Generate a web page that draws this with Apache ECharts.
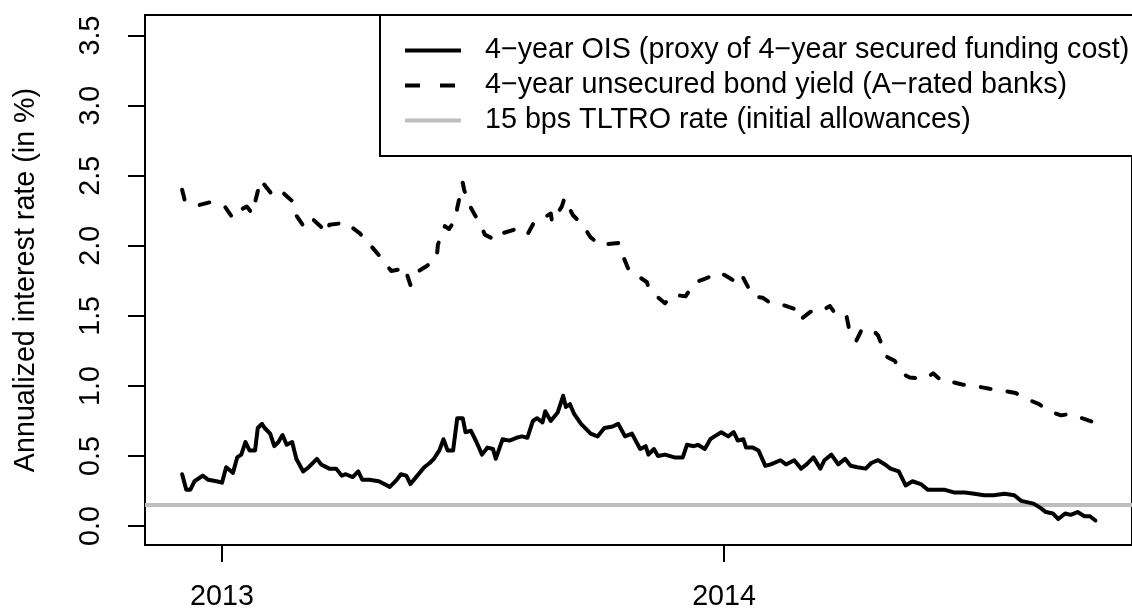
<!DOCTYPE html>
<html>
<head>
<meta charset="utf-8">
<script src="https://cdn.jsdelivr.net/npm/echarts@6/dist/echarts.min.js"></script>
<style>
html,body{margin:0;padding:0;background:#fff;}
#chart{width:1132px;height:612px;}
</style>
</head>
<body>
<div id="chart"></div>
<script>
// ---- data ----
const seriesNames = [
  '4\u2212year OIS (proxy of 4\u2212year secured funding cost)',
  '4\u2212year unsecured bond yield (A\u2212rated banks)',
  '15 bps TLTRO rate (initial allowances)'
];
const xTickDates = ['2013-01-01', '2014-01-01'];
const yTickValues = [0, 0.5, 1.0, 1.5, 2.0, 2.5, 3.0, 3.5];
const xRange = ['2012-11-06', '2014-10-24 14:00:00'];
const yRange = [-0.135, 3.647];
const tltroRate = 0.15;

const oisDates = ['2012-12-03','2012-12-06','2012-12-09','2012-12-12','2012-12-18','2012-12-22','2012-12-28','2013-01-01','2013-01-04','2013-01-09','2013-01-12','2013-01-15','2013-01-18','2013-01-21','2013-01-25','2013-01-27','2013-01-30','2013-02-01','2013-02-05','2013-02-08','2013-02-11','2013-02-14','2013-02-17','2013-02-21','2013-02-24','2013-03-01','2013-03-05','2013-03-11','2013-03-14','2013-03-20','2013-03-25','2013-03-29','2013-04-01','2013-04-06','2013-04-10','2013-04-13','2013-04-18','2013-04-25','2013-05-03','2013-05-08','2013-05-11','2013-05-15','2013-05-18','2013-05-23','2013-05-28','2013-06-01','2013-06-04','2013-06-08','2013-06-11','2013-06-14','2013-06-18','2013-06-21','2013-06-25','2013-06-27','2013-07-01','2013-07-05','2013-07-09','2013-07-13','2013-07-17','2013-07-19','2013-07-24','2013-07-29','2013-08-03','2013-08-07','2013-08-11','2013-08-15','2013-08-18','2013-08-22','2013-08-24','2013-08-28','2013-09-02','2013-09-06','2013-09-08','2013-09-11','2013-09-14','2013-09-19','2013-09-23','2013-09-26','2013-10-01','2013-10-06','2013-10-12','2013-10-16','2013-10-21','2013-10-26','2013-11-01','2013-11-05','2013-11-07','2013-11-11','2013-11-14','2013-11-19','2013-11-26','2013-12-02','2013-12-05','2013-12-10','2013-12-13','2013-12-18','2013-12-22','2013-12-25','2013-12-30','2014-01-04','2014-01-08','2014-01-11','2014-01-15','2014-01-17','2014-01-22','2014-01-26','2014-01-31','2014-02-04','2014-02-11','2014-02-15','2014-02-21','2014-02-26','2014-03-02','2014-03-07','2014-03-12','2014-03-15','2014-03-20','2014-03-25','2014-03-30','2014-04-03','2014-04-08','2014-04-14','2014-04-18','2014-04-23','2014-04-28','2014-05-02','2014-05-08','2014-05-13','2014-05-18','2014-05-24','2014-05-29','2014-06-03','2014-06-10','2014-06-17','2014-06-25','2014-07-02','2014-07-09','2014-07-16','2014-07-24','2014-07-31','2014-08-05','2014-08-14','2014-08-19','2014-08-23','2014-08-28','2014-09-01','2014-09-06','2014-09-10','2014-09-15','2014-09-20','2014-09-24','2014-09-28'];
const oisValues = [0.37,0.26,0.26,0.32,0.36,0.33,0.32,0.31,0.42,0.38,0.49,0.51,0.60,0.54,0.54,0.70,0.73,0.70,0.66,0.57,0.60,0.65,0.58,0.60,0.48,0.39,0.42,0.48,0.44,0.41,0.41,0.36,0.37,0.35,0.39,0.33,0.33,0.32,0.28,0.33,0.37,0.36,0.30,0.36,0.42,0.45,0.48,0.54,0.62,0.54,0.54,0.77,0.77,0.67,0.68,0.60,0.51,0.56,0.55,0.48,0.62,0.61,0.63,0.64,0.63,0.75,0.77,0.74,0.82,0.75,0.81,0.93,0.85,0.87,0.80,0.73,0.69,0.66,0.64,0.70,0.71,0.73,0.64,0.66,0.55,0.57,0.51,0.55,0.50,0.51,0.49,0.49,0.58,0.57,0.58,0.55,0.62,0.64,0.67,0.64,0.67,0.61,0.62,0.56,0.56,0.54,0.43,0.44,0.47,0.44,0.47,0.41,0.44,0.49,0.41,0.47,0.51,0.44,0.48,0.43,0.42,0.41,0.45,0.47,0.44,0.41,0.39,0.29,0.32,0.30,0.26,0.26,0.26,0.24,0.24,0.23,0.22,0.22,0.23,0.22,0.18,0.16,0.13,0.10,0.09,0.05,0.09,0.08,0.10,0.07,0.07,0.04];

const bondDates = ['2012-12-03','2012-12-05','2012-12-15','2012-12-23','2013-01-03','2013-01-08','2013-01-12','2013-01-15','2013-01-19','2013-01-23','2013-01-25','2013-01-29','2013-02-02','2013-02-07','2013-02-13','2013-02-21','2013-02-23','2013-03-02','2013-03-08','2013-03-19','2013-03-20','2013-03-28','2013-03-31','2013-04-03','2013-04-11','2013-04-21','2013-04-27','2013-05-04','2013-05-09','2013-05-10','2013-05-15','2013-05-18','2013-05-24','2013-05-29','2013-06-06','2013-06-07','2013-06-12','2013-06-15','2013-06-20','2013-06-21','2013-06-25','2013-06-26','2013-07-01','2013-07-05','2013-07-09','2013-07-11','2013-07-19','2013-07-24','2013-08-03','2013-08-11','2013-08-16','2013-08-21','2013-08-28','2013-08-29','2013-09-05','2013-09-07','2013-09-13','2013-09-20','2013-09-26','2013-10-04','2013-10-07','2013-10-16','2013-10-19','2013-10-24','2013-10-31','2013-11-06','2013-11-07','2013-11-13','2013-11-19','2013-11-25','2013-12-04','2013-12-11','2013-12-17','2013-12-29','2014-01-05','2014-01-13','2014-01-15','2014-01-22','2014-01-29','2014-02-04','2014-02-12','2014-02-21','2014-02-25','2014-03-05','2014-03-10','2014-03-19','2014-03-24','2014-03-31','2014-04-02','2014-04-07','2014-04-11','2014-04-19','2014-04-23','2014-04-29','2014-05-05','2014-05-12','2014-05-16','2014-05-27','2014-06-02','2014-06-09','2014-06-15','2014-06-23','2014-07-02','2014-07-13','2014-07-21','2014-08-01','2014-08-06','2014-08-18','2014-08-25','2014-09-03','2014-09-09','2014-09-18','2014-09-24','2014-09-28'];
const bondValues = [2.40,2.32,2.29,2.31,2.28,2.21,2.27,2.26,2.28,2.23,2.31,2.47,2.42,2.36,2.39,2.32,2.23,2.13,2.19,2.09,2.15,2.16,2.17,2.15,2.09,1.98,1.91,1.82,1.83,1.79,1.81,1.72,1.82,1.85,1.91,2.01,2.14,2.12,2.19,2.27,2.45,2.40,2.27,2.20,2.13,2.08,2.04,2.09,2.12,2.08,2.17,2.19,2.23,2.17,2.28,2.34,2.22,2.15,2.06,2.00,2.01,2.02,1.94,1.82,1.78,1.74,1.70,1.64,1.59,1.65,1.64,1.74,1.76,1.81,1.77,1.72,1.77,1.64,1.63,1.59,1.58,1.55,1.47,1.53,1.52,1.57,1.50,1.50,1.40,1.32,1.40,1.40,1.36,1.21,1.18,1.08,1.06,1.05,1.09,1.03,1.03,1.01,1.00,0.98,0.97,0.95,0.92,0.87,0.82,0.79,0.80,0.77,0.75,0.74];

// ---- chart ----
const P = s => +echarts.time.parse(s);
const FONT = "'Liberation Sans', Arial, Helvetica, sans-serif";
const FS = 28.7;

const oisData = oisDates.map((d, i) => [P(d), oisValues[i]]);
const bondData = bondDates.map((d, i) => [P(d), bondValues[i]]);
const tltroData = [[P(xRange[0]), tltroRate], [P(xRange[1]), tltroRate]];

const chart = echarts.init(document.getElementById('chart'), null, {renderer: 'canvas'});
chart.setOption({
  animation: false,
  backgroundColor: '#ffffff',
  textStyle: {fontFamily: FONT, color: '#000'},
  grid: {
    left: 145, top: 15, right: -3, bottom: 66,
    show: true, borderColor: '#000', borderWidth: 2, backgroundColor: 'transparent'
  },
  legend: {
    orient: 'vertical',
    left: 380, top: 15,
    data: [
      {name: seriesNames[0], lineStyle: {width: 4, type: 'solid', cap: 'butt'}},
      {name: seriesNames[1], lineStyle: {width: 4, type: [15, 20], cap: 'butt'}},
      {name: seriesNames[2], lineStyle: {width: 4, type: 'solid', cap: 'butt'}}
    ],
    backgroundColor: '#fff',
    borderColor: '#000', borderWidth: 2, borderRadius: 0,
    padding: [21, 30, 21, 23],
    itemGap: 6,
    itemWidth: 56, itemHeight: 14,
    itemStyle: {opacity: 0},
    selectedMode: false,
    textStyle: {fontFamily: FONT, fontSize: FS, color: '#000', padding: [0, 0, 0, 19]}
  },
  xAxis: {
    type: 'value',
    min: P(xRange[0]), max: P(xRange[1]),
    axisLine: {show: false, onZero: false},
    splitLine: {show: false},
    axisTick: {show: true, inside: false, length: 17, lineStyle: {color: '#000', width: 2},
      customValues: xTickDates.map(d => P(d))},
    axisLabel: {show: true, margin: 38, fontFamily: FONT, fontSize: FS, color: '#000',
      customValues: xTickDates.map(d => P(d)),
      formatter: v => echarts.time.format(v, '{yyyy}', false)}
  },
  yAxis: {
    type: 'value',
    min: yRange[0], max: yRange[1],
    name: 'Annualized interest rate (in %)',
    nameLocation: 'middle', nameRotate: 90, nameGap: 104,
    nameTextStyle: {fontFamily: FONT, fontSize: FS, color: '#000'},
    axisLine: {show: false, onZero: false},
    splitLine: {show: false},
    axisTick: {show: true, inside: false, length: 17, lineStyle: {color: '#000', width: 2},
      customValues: yTickValues},
    axisLabel: {show: true, rotate: 90, margin: 39, fontFamily: FONT, fontSize: FS, color: '#000',
      customValues: yTickValues,
      formatter: v => v.toFixed(1)}
  },
  series: [
    {
      name: seriesNames[2], type: 'line', data: tltroData, symbol: 'none', z: 1,
      lineStyle: {color: '#bebebe', width: 4}, itemStyle: {color: '#bebebe'}
    },
    {
      name: seriesNames[0], type: 'line', data: oisData, symbol: 'none', z: 3,
      lineStyle: {color: '#000', width: 4, cap: 'round', join: 'round'}, itemStyle: {color: '#000'}
    },
    {
      name: seriesNames[1], type: 'line', data: bondData, symbol: 'none', z: 3,
      lineStyle: {color: '#000', width: 4, type: [10, 17], cap: 'round', join: 'round'}, itemStyle: {color: '#000'}
    }
  ]
});
</script>
</body>
</html>
